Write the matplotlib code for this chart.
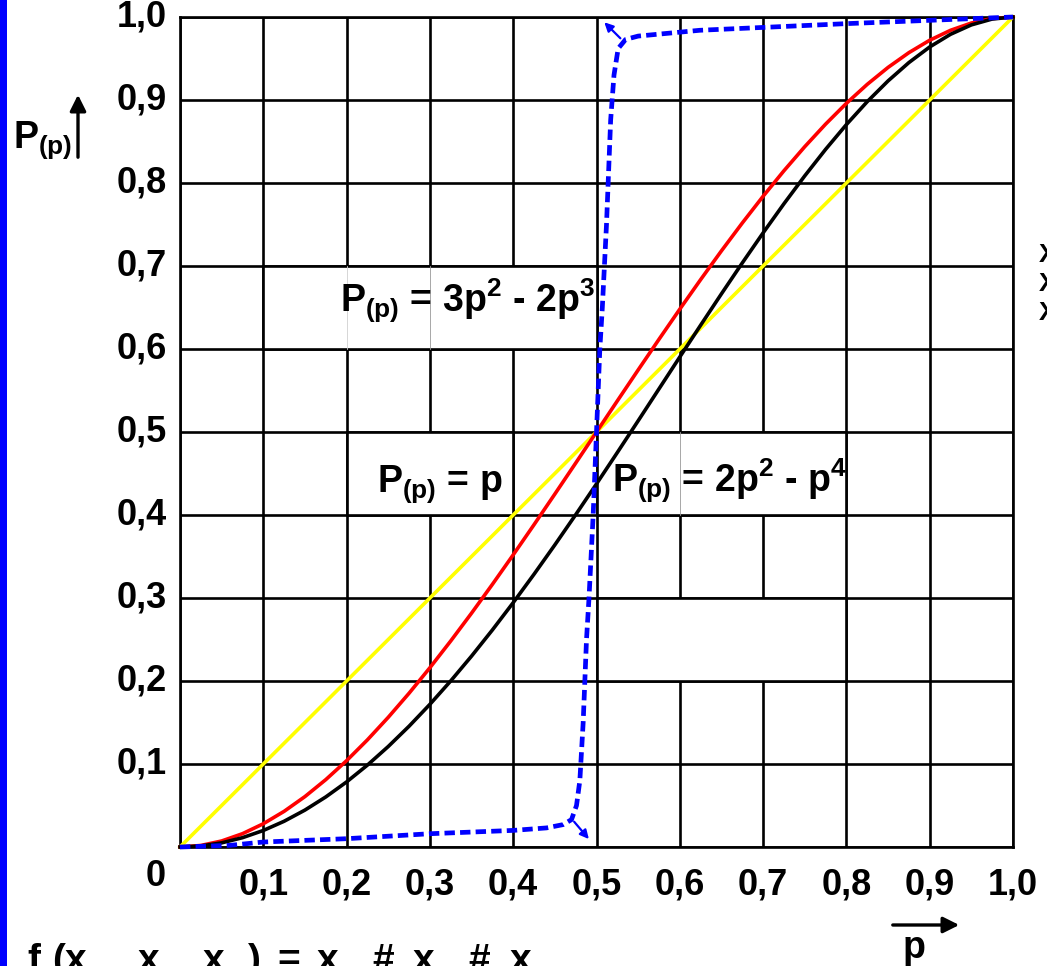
import matplotlib
matplotlib.use("Agg")
import matplotlib.pyplot as plt
from matplotlib.patches import Rectangle, FancyArrowPatch

plt.rcParams["font.family"] = ["Liberation Sans", "DejaVu Sans"]
plt.rcParams["font.weight"] = "bold"
plt.rcParams["mathtext.fontset"] = "custom"
plt.rcParams["mathtext.rm"] = "Liberation Sans:bold"
plt.rcParams["mathtext.it"] = "Liberation Sans:bold"
plt.rcParams["mathtext.bf"] = "Liberation Sans:bold"

W, H = 1047, 966

# sampled curve values (p from 0 to 1 in steps of 0.025)
p_vals = [0.0, 0.025, 0.05, 0.075, 0.1, 0.125, 0.15, 0.175, 0.2, 0.225,
          0.25, 0.275, 0.3, 0.325, 0.35, 0.375, 0.4, 0.425, 0.45, 0.475,
          0.5, 0.525, 0.55, 0.575, 0.6, 0.625, 0.65, 0.675, 0.7, 0.725,
          0.75, 0.775, 0.8, 0.825, 0.85, 0.875, 0.9, 0.925, 0.95, 0.975, 1.0]
linear_vals = [0.0, 0.025, 0.05, 0.075, 0.1, 0.125, 0.15, 0.175, 0.2, 0.225,
               0.25, 0.275, 0.3, 0.325, 0.35, 0.375, 0.4, 0.425, 0.45, 0.475,
               0.5, 0.525, 0.55, 0.575, 0.6, 0.625, 0.65, 0.675, 0.7, 0.725,
               0.75, 0.775, 0.8, 0.825, 0.85, 0.875, 0.9, 0.925, 0.95, 0.975, 1.0]
red_vals = [0.0, 0.00184, 0.00725, 0.01603, 0.028, 0.04297, 0.06075, 0.08116,
            0.104, 0.12909, 0.15625, 0.18528, 0.216, 0.24822, 0.28175,
            0.31641, 0.352, 0.38834, 0.42525, 0.46253, 0.5, 0.53747, 0.57475,
            0.61166, 0.648, 0.68359, 0.71825, 0.75178, 0.784, 0.81472,
            0.84375, 0.87091, 0.896, 0.91884, 0.93925, 0.95703, 0.972,
            0.98397, 0.99275, 0.99816, 1.0]
black_vals = [0.0, 0.00125, 0.00499, 0.01122, 0.0199, 0.03101, 0.04449,
              0.06031, 0.0784, 0.09869, 0.12109, 0.14553, 0.1719, 0.20009,
              0.22999, 0.26148, 0.2944, 0.32863, 0.36399, 0.40034, 0.4375,
              0.47528, 0.51349, 0.55194, 0.5904, 0.62866, 0.66649, 0.70366,
              0.7399, 0.77497, 0.80859, 0.8405, 0.8704, 0.898, 0.92299,
              0.94507, 0.9639, 0.97916, 0.99049, 0.99756, 1.0]

# steep dashed curve
blue_p = [0.0, 0.06, 0.1, 0.2, 0.3, 0.4, 0.44, 0.46, 0.47, 0.476, 0.48,
          0.484, 0.488, 0.491, 0.496, 0.5, 0.504, 0.507, 0.512, 0.517,
          0.521, 0.526, 0.535, 0.55, 0.624, 0.8, 1.0]
blue_P = [0.0, 0.002, 0.006, 0.01, 0.016, 0.02, 0.023, 0.027, 0.033, 0.05,
          0.08, 0.15, 0.25, 0.3, 0.4, 0.5, 0.6, 0.65, 0.75, 0.876, 0.93,
          0.962, 0.973, 0.977, 0.984, 0.992, 1.0]

tick_vals = [0.1, 0.2, 0.3, 0.4, 0.5, 0.6, 0.7, 0.8, 0.9, 1.0]
tick_labels = ["0,1", "0,2", "0,3", "0,4", "0,5", "0,6", "0,7", "0,8", "0,9", "1,0"]


def fx(x):
    return x / W


def fy(y):
    return 1 - y / H


fig = plt.figure(figsize=(W / 100, H / 100), dpi=100)
fig.patch.set_facecolor("white")
ax = fig.add_axes([fx(180), fy(847), 833 / W, 830 / H])
ax.set_xlim(0, 1)
ax.set_ylim(0, 1)
ax.set_xticks([i / 10 for i in range(11)])
ax.set_yticks([i / 10 for i in range(11)])
ax.tick_params(length=0, labelbottom=False, labelleft=False)
ax.set_axisbelow(True)
ax.grid(color="black", linewidth=1.9)
for s in ax.spines.values():
    s.set_linewidth(1.9)

# label boxes hiding part of the grid
boxes = [(0.1, 0.6, 0.4, 0.1), (0.2, 0.4, 0.2, 0.1),
         (0.5, 0.4, 0.3, 0.1), (0.5, 0.2, 0.3, 0.1)]
for bx, by, bw, bh in boxes:
    ax.add_patch(Rectangle((bx, by), bw, bh, facecolor="white",
                           edgecolor="black", linewidth=1.9, zorder=1))
# faint remnants of grid lines inside boxes
ax.plot([0.2, 0.2], [0.6, 0.7], color="#d0d0d0", lw=0.6, zorder=1.5)
ax.plot([0.3, 0.3], [0.6, 0.7], color="#999999", lw=0.6, zorder=1.5)
ax.plot([0.6, 0.6], [0.4, 0.5], color="#999999", lw=0.6, zorder=1.5)

ax.plot(p_vals, linear_vals, color="#ffff00", lw=2.6, zorder=3, clip_on=False)
ax.plot(p_vals, red_vals, color="#ff0000", lw=2.6, zorder=3, clip_on=False)
ax.plot(p_vals, black_vals, color="black", lw=2.6, zorder=3, clip_on=False)
ax.plot(blue_p, blue_P, color="#0000ff", lw=3.4, linestyle=(0, (2.2, 1.1)),
        zorder=4, clip_on=False)

ax.annotate("", xy=(0.507, 0.996), xytext=(0.531, 0.972),
            arrowprops=dict(arrowstyle="-|>", color="#0000ff", lw=1.6,
                            mutation_scale=13), zorder=5)
ax.annotate("", xy=(0.493, 0.007), xytext=(0.471, 0.033),
            arrowprops=dict(arrowstyle="-|>", color="#0000ff", lw=1.6,
                            mutation_scale=13), zorder=5)

# formula labels
fs = 27
ax.text(fx(340), fy(312), r"$P_{(p)}$ = 3p$^{2}$ - 2p$^{3}$",
        transform=fig.transFigure, fontsize=fs, ha="left", va="baseline", zorder=6)
ax.text(fx(377), fy(492), r"$P_{(p)}$ = p",
        transform=fig.transFigure, fontsize=fs, ha="left", va="baseline", zorder=6)
ax.text(fx(612), fy(492), r"$P_{(p)}$ = 2p$^{2}$ - p$^{4}$",
        transform=fig.transFigure, fontsize=fs, ha="left", va="baseline", zorder=6)

# tick labels
for v, lab in zip(tick_vals, tick_labels):
    ax.text(v, -(885 - 847) / 830, lab, transform=ax.get_xaxis_transform(),
            fontsize=26, ha="center", va="center")
    ax.text(-(180 - 167) / 833, v, lab, transform=ax.get_yaxis_transform(),
            fontsize=26, ha="right", va="center")
fig.text(fx(156), fy(876), "0", fontsize=26, ha="center", va="center")

# axis names with arrows
fig.text(fx(13), fy(148), r"$P_{(p)}$", fontsize=27, ha="left", va="baseline")
fig.add_artist(FancyArrowPatch(
    (fx(78), fy(160)), (fx(78), fy(92)), transform=fig.transFigure,
    arrowstyle="-|>", mutation_scale=24, color="black", lw=2.4))
fig.text(fx(914), fy(958), "p", fontsize=27, ha="center", va="baseline")
fig.add_artist(FancyArrowPatch(
    (fx(890), fy(925)), (fx(962), fy(925)), transform=fig.transFigure,
    arrowstyle="-|>", mutation_scale=24, color="black", lw=2.4))

# cut-off texts at the edges
bottom_parts = [(27, "f"), (52, "("), (65, "x"), (138, "x"), (203, "x"),
                (248, ")"), (277, "="), (317, "x"), (372, "#"), (413, "x"),
                (468, "#"), (510, "x")]
for px, s in bottom_parts:
    fig.text(fx(px), fy(971), s, fontsize=28, ha="left", va="baseline")
for py in [255, 284, 313]:
    fig.text(fx(1039), fy(py), "X", fontsize=19, ha="left", va="center")

fig.patches.append(Rectangle((0, 0), fx(7), 1, transform=fig.transFigure,
                             facecolor="#0000ff", edgecolor="none"))

fig.savefig("out.png", dpi=100, facecolor="white")
